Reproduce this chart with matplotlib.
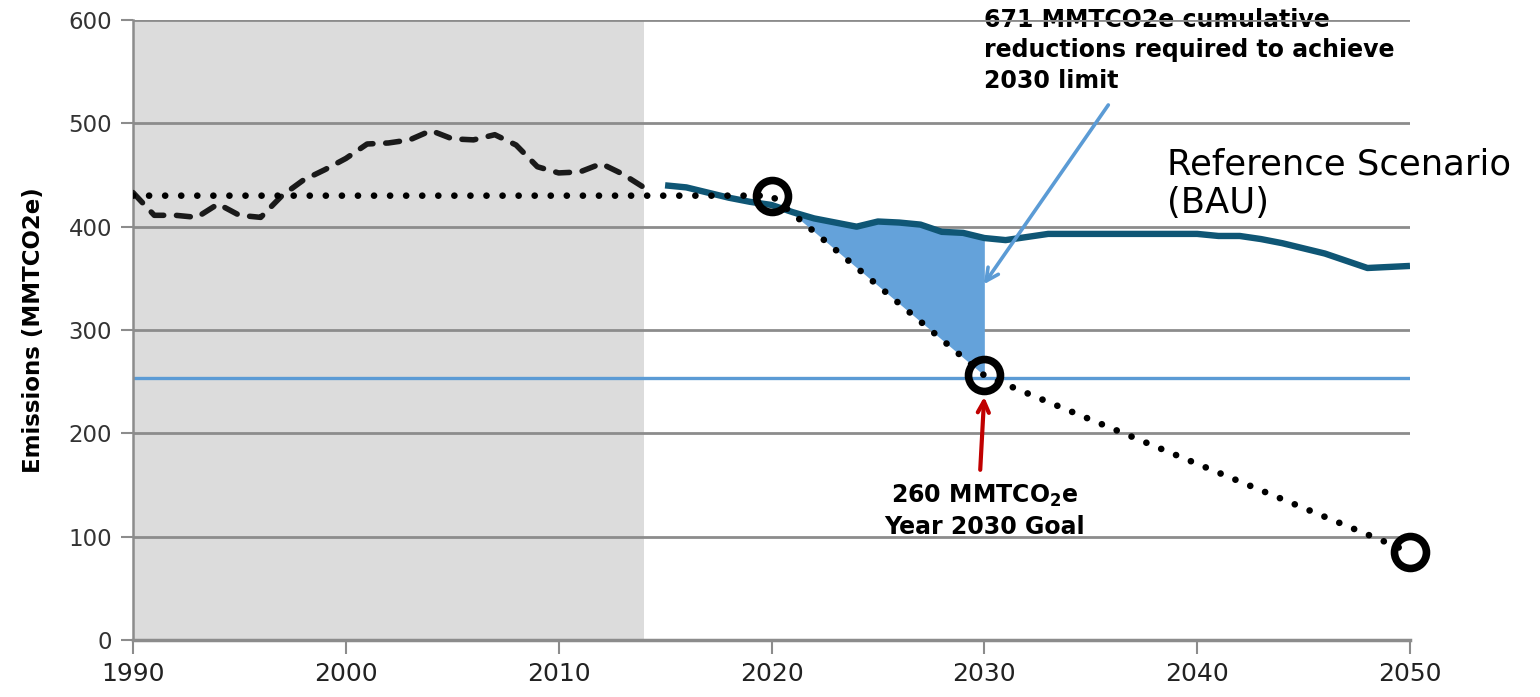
import numpy as np
import matplotlib
matplotlib.use("Agg")
import matplotlib.pyplot as plt

# === Data ===

# Historical emissions (MMTCO2e)
hist_years = np.arange(1990, 2015)
hist_values = [433, 411, 411, 409, 422, 411, 409, 430, 445, 455, 466, 480, 481,
               484, 493, 485, 484, 489, 479, 458, 452, 453, 461, 451, 438]

# Reference scenario (BAU)
ref_years = np.arange(2015, 2051)
ref_values = [440, 438, 433, 428, 424, 421, 414, 408, 404, 400,
              405, 404, 402, 395, 394, 389, 387, 390, 393, 393,
              393, 393, 393, 393, 393, 393, 391, 391, 388, 384,
              379, 374, 367, 360, 361, 362]

# Goal path with milestones
goal_years = [1990, 2020, 2030, 2050]
goal_values = [430, 430, 256, 85]
milestone_years = [2020, 2030, 2050]
milestone_values = [430, 256, 85]

limit_2030 = 254
history_end = 2014

y_ticks = [0, 100, 200, 300, 400, 500, 600]
x_ticks = [1990, 2000, 2010, 2020, 2030, 2040, 2050]

# === Figure ===

fig = plt.figure(figsize=(15.4, 6.97), dpi=100)
ax = fig.add_axes([133 / 1540, 1 - 640 / 697, (1410 - 133) / 1540, 620 / 697])

ax.axvspan(1990, history_end, color='#dcdcdc', lw=0, zorder=0.2)
ax.set_axisbelow(True)
ax.yaxis.grid(True, color='#8c8c8c', lw=2.0)

# limit line
ax.axhline(limit_2030, color='#5b9bd5', lw=2.4, zorder=2)

# cumulative reductions area
ref_arr = np.array(ref_values, dtype=float)
goal_on_ref = np.interp(ref_years, goal_years, goal_values)
ax.fill_between(ref_years, ref_arr, goal_on_ref,
                where=(ref_years <= 2030) & (ref_years >= 2020) & (ref_arr >= goal_on_ref),
                interpolate=True, color='#64a2da', lw=0, zorder=2.2)

# historical
ax.plot(hist_years, hist_values, color='#1a1a1a', lw=4.0,
        linestyle=(0, (2.5, 2.3)), dash_capstyle='round', zorder=3)

# goal path
ax.plot(goal_years, goal_values, color='black', lw=4.8,
        linestyle=(0, (0.01, 2.4)), dash_capstyle='round', zorder=3.2)

# reference scenario
ax.plot(ref_years, ref_values, color='#0f5675', lw=4.6, solid_capstyle='butt', zorder=3.1)

# milestones
ax.plot(milestone_years, milestone_values, 'o', ms=23, mfc='none', mec='black', mew=5.5,
        zorder=4, clip_on=False)

# === Axes ===

ax.set_xlim(1990, 2050)
ax.set_ylim(0, 600)
ax.set_xticks(x_ticks)
ax.set_yticks(y_ticks)
ax.tick_params(axis='y', length=9, width=1.5, color='#8c8c8c', labelsize=16.5,
               labelcolor='#333333', pad=6)
ax.tick_params(axis='x', length=10, width=1.5, color='#8c8c8c', labelsize=18,
               labelcolor='#222222', pad=6)
for s in ['top', 'right']:
    ax.spines[s].set_visible(False)
ax.spines['left'].set_color('#8c8c8c')
ax.spines['left'].set_linewidth(1.8)
ax.spines['bottom'].set_color('#8c8c8c')
ax.spines['bottom'].set_linewidth(2.5)
ax.set_ylabel("Emissions (MMTCO2e)", fontsize=16.5, fontweight='bold', labelpad=17)

# === Annotations ===

ax.text(2030.0, 612, "671 MMTCO2e cumulative\nreductions required to achieve\n2030 limit",
        fontsize=17, fontweight='bold', ha='left', va='top', linespacing=1.35,
        zorder=0.4, clip_on=False)
ax.annotate("", xy=(2029.9, 342), xytext=(2035.9, 520),
            arrowprops=dict(arrowstyle='->,head_length=0.9,head_width=0.45',
                            color='#5b9bd5', lw=2.6), zorder=5)

ax.text(2038.6, 477, "Reference Scenario\n(BAU)", fontsize=25.5, ha='left', va='top',
        zorder=5, clip_on=False)

ax.text(2030.0, 152, "260 MMTCO$_\\mathbf{2}$e\nYear 2030 Goal", fontsize=17,
        fontweight='bold', ha='center', va='top', linespacing=1.3, zorder=0.4)
ax.annotate("", xy=(2030.0, 238), xytext=(2029.8, 162),
            arrowprops=dict(arrowstyle='->,head_length=0.8,head_width=0.4',
                            color='#c00000', lw=3.0), zorder=5)

fig.savefig("out.png", dpi=100)
